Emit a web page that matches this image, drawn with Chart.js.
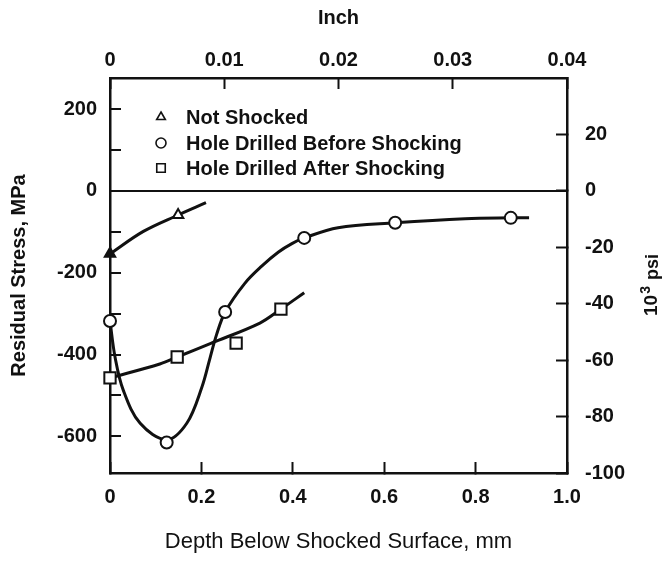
<!DOCTYPE html>
<html>
<head>
<meta charset="utf-8">
<script src="https://cdn.jsdelivr.net/npm/chart.js@4.4.1/dist/chart.umd.min.js"></script>
<style>
  body { margin: 0; background: #fff; }
  canvas { display: block; }
</style>
</head>
<body>
<canvas id="stress" width="663" height="565"></canvas>
<script>
// measured points (depth in mm, stress in MPa)
let notShockedDepth = [0, 0.149],
    notShockedStress = [-154, -59],
    beforeDepth = [0, 0.124, 0.252, 0.425, 0.624, 0.877],
    beforeStress = [-318, -615, -296, -115, -78, -66],
    afterDepth = [0, 0.147, 0.276, 0.374],
    afterStress = [-457, -406, -372, -289];

// faired curves
let notShockedCurveDepth = [0, 0.073, 0.149, 0.210],
    notShockedCurveStress = [-154, -99, -59, -29],
    beforeCurveDepth = [0, 0.011, 0.029, 0.066, 0.124, 0.168, 0.201, 0.219, 0.233, 0.252, 0.295, 0.332, 0.368, 0.398, 0.425, 0.499, 0.624, 0.777, 0.877, 0.917],
    beforeCurveStress = [-318, -406, -487, -568, -608, -568, -480, -408, -352, -296, -226, -184, -150, -129, -115, -90, -78, -68, -66, -66],
    afterCurveDepth = [0, 0.109, 0.147, 0.222, 0.328, 0.374, 0.425],
    afterCurveStress = [-457, -423, -406, -372, -323, -289, -249];

let seriesNames = ['Not Shocked', 'Hole Drilled Before Shocking', 'Hole Drilled After Shocking'],
    seriesStyles = ['triangle', 'circle', 'rect'];

// axis ticks
let mmTicks = [0, 0.2, 0.4, 0.6, 0.8, 1.0],
    inchTicks = [0, 0.01, 0.02, 0.03, 0.04],
    mpaTicks = [-600, -500, -400, -300, -200, -100, 0, 100, 200],
    ksiTicks = [-100, -80, -60, -40, -20, 0, 20];

let mpaMin = -689.5, mpaMax = 275.8,
    ksiMin = -100, ksiMax = 40;

function pairs(xs, ys) {
    let out = [];
    xs.forEach(function(x, i) {
        out.push({ x: x, y: ys[i] });
    });
    return out;
}

let ink = '#111',
    bold20 = { family: '"Liberation Sans", Arial, sans-serif', size: 20, weight: 'bold' },
    TL = 11;

Chart.defaults.font.family = '"Liberation Sans", Arial, sans-serif';
Chart.defaults.color = ink;

function setTicks(list) {
    return function(scale) {
        scale.ticks = list.map(function(v) { return { value: v }; });
    };
}

let overlay = {
    id: 'overlay',
    afterDraw: function(chart) {
        let ctx = chart.ctx;
        ctx.save();
        // legend inside the plot
        let rows = [117, 143, 168];
        seriesNames.forEach(function(name, i) {
            ctx.fillStyle = '#fff';
            ctx.strokeStyle = ink;
            ctx.lineWidth = 1.6;
            Chart.helpers.drawPoint(ctx, {
                pointStyle: seriesStyles[i],
                radius: i == 2 ? 6 : 5,
                rotation: 0,
                borderWidth: 1.6
            }, 161, rows[i]);
            ctx.fillStyle = ink;
            ctx.font = 'bold 20px "Liberation Sans", Arial, sans-serif';
            ctx.textAlign = 'left';
            ctx.textBaseline = 'alphabetic';
            ctx.fillText(name, 186, rows[i] + 7);
        });
        // right axis title, reading upward: 10^3 psi
        ctx.translate(657, 316);
        ctx.rotate(-Math.PI / 2);
        ctx.fillStyle = ink;
        ctx.textAlign = 'left';
        ctx.textBaseline = 'alphabetic';
        ctx.font = 'bold 19px "Liberation Sans", Arial, sans-serif';
        ctx.fillText('10', 0, 0);
        let w = ctx.measureText('10').width;
        ctx.font = 'bold 14px "Liberation Sans", Arial, sans-serif';
        ctx.fillText('3', w + 1, -7);
        let w3 = ctx.measureText('3').width;
        ctx.font = 'bold 18px "Liberation Sans", Arial, sans-serif';
        ctx.fillText('psi', w + w3 + 7, 1);
        ctx.restore();
    }
};

var ctx = document.getElementById('stress').getContext('2d');
var chart = new Chart(ctx, {
    type: 'scatter',
    data: {
        datasets: [
            {
                label: seriesNames[0],
                data: pairs(notShockedDepth, notShockedStress),
                pointStyle: 'triangle',
                pointRadius: 6,
                pointBorderWidth: 2,
                pointBorderColor: ink,
                pointBackgroundColor: [ink, '#fff'],
                showLine: false,
                clip: false
            },
            {
                label: seriesNames[1],
                data: pairs(beforeDepth, beforeStress),
                pointStyle: 'circle',
                pointRadius: 6,
                pointBorderWidth: 2,
                pointBorderColor: ink,
                pointBackgroundColor: '#fff',
                showLine: false,
                clip: false
            },
            {
                label: seriesNames[2],
                data: pairs(afterDepth, afterStress),
                pointStyle: 'rect',
                pointRadius: 8,
                pointBorderWidth: 2,
                pointBorderColor: ink,
                pointBackgroundColor: '#fff',
                showLine: false,
                clip: false
            },
            {
                data: pairs(notShockedCurveDepth, notShockedCurveStress),
                showLine: true, pointRadius: 0, borderWidth: 3, borderColor: ink,
                tension: 0.35, clip: false
            },
            {
                data: pairs(beforeCurveDepth, beforeCurveStress),
                showLine: true, pointRadius: 0, borderWidth: 3, borderColor: ink,
                tension: 0.35, clip: false
            },
            {
                data: pairs(afterCurveDepth, afterCurveStress),
                showLine: true, pointRadius: 0, borderWidth: 3, borderColor: ink,
                tension: 0.35, clip: false
            }
        ]
    },
    options: {
        responsive: false,
        animation: false,
        events: [],
        layout: { padding: 0 },
        plugins: {
            legend: { display: false },
            tooltip: { enabled: false }
        },
        scales: {
            x: {
                type: 'linear', position: 'bottom', min: 0, max: 1.0,
                afterBuildTicks: setTicks(mmTicks),
                afterFit: function(s) { s.height = 92; },
                border: { display: true, color: ink, width: 2.5 },
                grid: { drawOnChartArea: false, tickLength: -TL, tickColor: ink, tickWidth: 2 },
                ticks: {
                    font: bold20, color: ink, padding: 23, autoSkip: false, maxRotation: 0,
                    callback: function(v) { return v == 0 ? '0' : v.toFixed(1); }
                },
                title: {
                    display: true, text: 'Depth Below Shocked Surface, mm', color: ink,
                    font: { size: 22, weight: 'normal' }, padding: { top: 0, bottom: 10 }
                }
            },
            x2: {
                type: 'linear', position: 'top', min: 0, max: 0.04,
                afterBuildTicks: setTicks(inchTicks),
                afterFit: function(s) { s.height = 78; },
                border: { display: true, color: ink, width: 2.5 },
                grid: { drawOnChartArea: false, tickLength: -TL, tickColor: ink, tickWidth: 2 },
                ticks: {
                    font: bold20, color: ink, padding: 17, autoSkip: false, maxRotation: 0,
                    callback: function(v) { return v == 0 ? '0' : v.toFixed(2); }
                },
                title: {
                    display: true, text: 'Inch', color: ink,
                    font: bold20, padding: { top: 6, bottom: 0 }
                }
            },
            y: {
                type: 'linear', position: 'left', min: mpaMin, max: mpaMax,
                afterBuildTicks: setTicks(mpaTicks),
                afterFit: function(s) { s.width = 110; },
                border: { display: true, color: ink, width: 2.5 },
                grid: {
                    drawOnChartArea: true,
                    color: function(c) { return c.tick && c.tick.value === 0 ? ink : 'rgba(0,0,0,0)'; },
                    lineWidth: 2,
                    tickLength: -TL, tickColor: ink, tickWidth: 2
                },
                ticks: {
                    font: bold20, color: ink, padding: 24, autoSkip: false,
                    callback: function(v) { return v % 200 == 0 ? String(v) : ''; }
                },
                title: {
                    display: true, text: 'Residual Stress, MPa', color: ink,
                    font: bold20, padding: { top: 7, bottom: 0 }
                }
            },
            y2: {
                type: 'linear', position: 'right', min: ksiMin, max: ksiMax,
                afterBuildTicks: setTicks(ksiTicks),
                afterFit: function(s) { s.width = 96; },
                border: { display: true, color: ink, width: 2.5 },
                grid: { drawOnChartArea: false, tickLength: -TL, tickColor: ink, tickWidth: 2 },
                ticks: {
                    font: bold20, color: ink, padding: 29, autoSkip: false,
                    callback: function(v) { return String(v); }
                }
            }
        }
    },
    plugins: [overlay]
});
</script>
</body>
</html>
